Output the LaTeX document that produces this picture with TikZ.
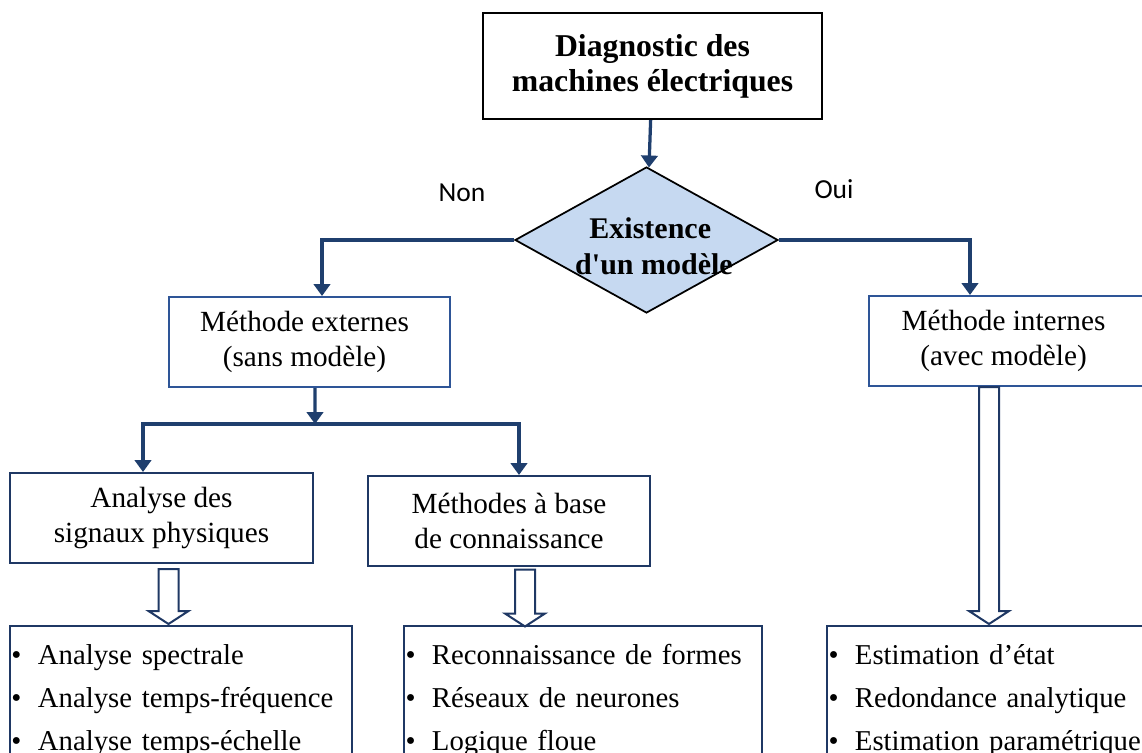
\documentclass[tikz,border=0pt]{standalone}
\usepackage{fontspec}
\setmainfont{Liberation Serif}
\newfontfamily\labelfont{Carlito}
\usepackage{tikz}
\usetikzlibrary{shapes.geometric, arrows.meta, positioning, calc}

\definecolor{linkblue}{HTML}{1F3F6E}
\definecolor{boxblue}{HTML}{2E5597}
\definecolor{navy}{HTML}{1F3864}
\definecolor{diamfill}{HTML}{C6D9F1}

\tikzset{
    pics/fatarrow/.style={code={
        \draw[navy, line width=0.8pt, fill=white, line join=miter]
            (-10,0) -- (-10,{#1-13}) -- (-20,{#1-13}) -- (0,#1)
            -- (20,{#1-13}) -- (10,{#1-13}) -- (10,0) -- cycle;
    }}
}

\begin{document}
\begin{tikzpicture}[
    x=0.4pt, y=-0.4pt,
    titlebox/.style={rectangle, draw=black, line width=0.9pt, minimum width=135.6pt, minimum height=42.4pt, align=center, font=\fontsize{12.7}{14}\selectfont\bfseries},
    decision/.style={diamond, draw=black, line width=0.7pt, fill=diamfill, aspect=1.8, inner sep=0pt, minimum width=105.2pt, minimum height=58.4pt, font=\fontsize{12}{14}\selectfont\bfseries},
    method/.style={rectangle, draw=boxblue, line width=0.8pt, minimum height=36pt, align=center, font=\fontsize{11.7}{14}\selectfont},
    listbox/.style={rectangle, draw=navy, line width=0.8pt, align=left, inner xsep=0.6pt, inner ysep=7.4pt, anchor=north, font=\fontsize{11.5}{17.2}\selectfont},
    choice/.style={font=\labelfont\fontsize{11}{13}\selectfont},
    link/.style={linkblue, line width=1.3pt, -{Triangle[width=6.6pt, length=4.8pt]}},
]
    \useasboundingbox (0,0) rectangle (1142,753);
    \clip (0,0) rectangle (1142,753);

    \newcommand{\itm}[1]{\makebox[10.6pt][l]{\textbullet}#1}

    % top of the tree
    \node[titlebox] (diag) at (652.5,66) {Diagnostic des\\machines électriques};
    \node[decision] (exist) at (646.5,240)
        {\makebox[0pt]{\raisebox{-6.8pt}[0pt][0pt]{\begin{tabular}{@{}c@{}}\hspace*{3pt}Existence\\\hspace*{6pt}d\textquotesingle un modèle\end{tabular}}}};
    \node[choice] (non) at (462,193) {Non};
    \node[choice] (oui) at (834,189) {Oui};

    % the two families
    \node[method, minimum width=112.4pt] (ext) at (309.5,342) {Méthode externes\hspace*{4pt}\\(sans modèle)\hspace*{4pt}};
    \node[method, minimum width=112.4pt] (int) at (1009.5,341) {Méthode internes\hspace*{4.8pt}\\(avec modèle)\hspace*{4.8pt}};
    \node[method, draw=navy, minimum width=121.2pt] (sig) at (161.5,518) {Analyse des\\signaux physiques};
    \node[method, draw=navy, minimum width=112.8pt] (con) at (509,521) {Méthodes à base\\de connaissance};

    % lists of methods
    \node[listbox, text width=135.6pt] (lst1) at (181,625)
        {\itm{Analyse spectrale}\\\itm{Analyse temps-fréquence}\\\itm{Analyse temps-échelle}};
    \node[listbox, text width=142pt] (lst2) at (583,625)
        {\itm{Reconnaissance de formes}\\\itm{Réseaux de neurones}\\\itm{Logique floue}};
    \node[listbox, text width=134pt] (lst3) at (996,625)
        {\itm{Estimation d’état}\\\itm{Redondance analytique}\\\itm{Estimation paramétrique}};

    \coordinate (split) at (315,424);

    \draw[link] (diag) -- (exist);
    \draw[link] (exist.west) -| ([xshift=5pt]ext.north);
    \draw[link] (exist.east) -| ([xshift=-15.8pt]int.north);
    \draw[link] ([xshift=2.2pt]ext.south) -- (split);
    \draw[link] (split) -| ([xshift=-7.4pt]sig.north);
    \draw[link] (split) -| ([xshift=4pt]con.north);

    \pic at ([xshift=2.8pt,yshift=-2pt]sig.south) {fatarrow=55};
    \pic at ([xshift=6.4pt,yshift=-1pt]con.south) {fatarrow=57};
    \pic at ([xshift=-8.2pt]int.south) {fatarrow=237};
\end{tikzpicture}
\end{document}
